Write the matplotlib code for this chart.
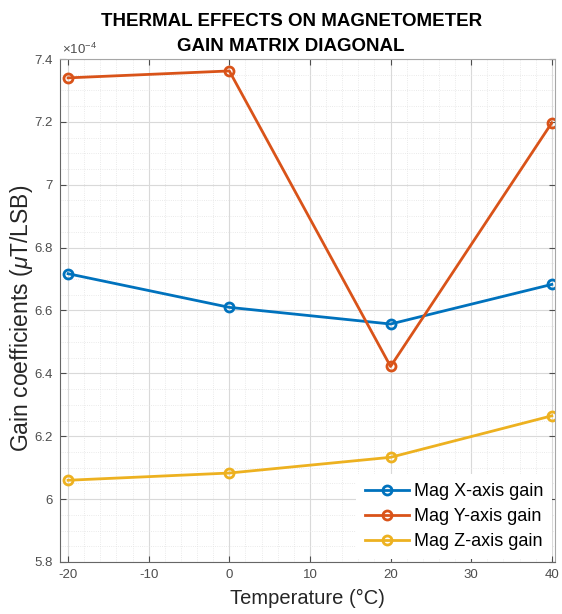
import numpy as np
import matplotlib.pyplot as plt
from matplotlib.ticker import MultipleLocator

plt.rcParams['font.family'] = ['Liberation Sans', 'DejaVu Sans']
plt.rcParams['mathtext.fontset'] = 'custom'
plt.rcParams['mathtext.it'] = 'Liberation Sans:italic'
plt.rcParams['mathtext.rm'] = 'Liberation Sans'
plt.rcParams['axes.unicode_minus'] = False

# temperature steps and diagonal gain terms (x1e-4 uT/LSB)
temps = [-20, 0, 20, 40]
gain_x = [6.717, 6.610, 6.557, 6.683]
gain_y = [7.340, 7.362, 6.422, 7.197]
gain_z = [6.060, 6.083, 6.133, 6.265]
labels = ['Mag X-axis gain', 'Mag Y-axis gain', 'Mag Z-axis gain']
colors = ['#0072BD', '#D95319', '#EDB120']
ytick_vals = [5.8, 6.0, 6.2, 6.4, 6.6, 6.8, 7.0, 7.2, 7.4]
ytick_text = ['5.8', '6', '6.2', '6.4', '6.6', '6.8', '7', '7.2', '7.4']

fig = plt.figure(figsize=(5.62, 6.14), dpi=100)
ax = fig.add_axes([0.1068, 0.0847, 0.8808, 0.8192])

for vals, lab, c in zip([gain_x, gain_y, gain_z], labels, colors):
    ax.plot(temps, vals, '-o', color=c, lw=2, ms=6.5, mew=2,
            mfc='none', label=lab)

ax.set_xlim(-21, 40.4)
ax.set_ylim(5.8, 7.4)
ax.xaxis.set_major_locator(MultipleLocator(10))
ax.xaxis.set_minor_locator(MultipleLocator(2))
ax.yaxis.set_minor_locator(MultipleLocator(0.05))
ax.set_yticks(ytick_vals)
ax.set_yticklabels(ytick_text)

ax.grid(which='major', color='#d9d9d9', lw=0.8)
ax.grid(which='minor', color='#e3e3e3', lw=0.6, ls=':')
ax.set_axisbelow(True)
ax.tick_params(which='both', direction='in', colors='#4d4d4d',
               labelsize=9.5, top=True, right=True)
ax.tick_params(which='minor', length=0)
ax.tick_params(which='major', length=4, pad=5)
for side in ['left', 'bottom']:
    ax.spines[side].set_color('#666666')
for side in ['top', 'right']:
    ax.spines[side].set_color('#a6a6a6')

ax.text(0.003, 1.004, r'$\times10^{-4}$', transform=ax.transAxes,
        fontsize=9.5, color='#4d4d4d', ha='left', va='bottom')

ax.set_xlabel('Temperature (°C)', fontsize=14.5, color='#262626', labelpad=6)
ax.set_ylabel(r'Gain coefficients ($\mu$T/LSB)', fontsize=16.5,
              color='#262626')
ax.yaxis.set_label_coords(-0.05, 0.485)
ax.set_title('THERMAL EFFECTS ON MAGNETOMETER\nGAIN MATRIX DIAGONAL',
             fontsize=13.5, fontweight='bold', pad=6, linespacing=1.6,
             x=0.467)

leg = ax.legend(loc='lower right', fontsize=13, frameon=True,
                handlelength=2.4, handletextpad=0.3, borderaxespad=0.25,
                labelspacing=0.45)
leg.get_frame().set_edgecolor('none')
leg.get_frame().set_alpha(1)
leg.get_frame().set_boxstyle('square', pad=0.1)

fig.savefig('out.png', dpi=100)
